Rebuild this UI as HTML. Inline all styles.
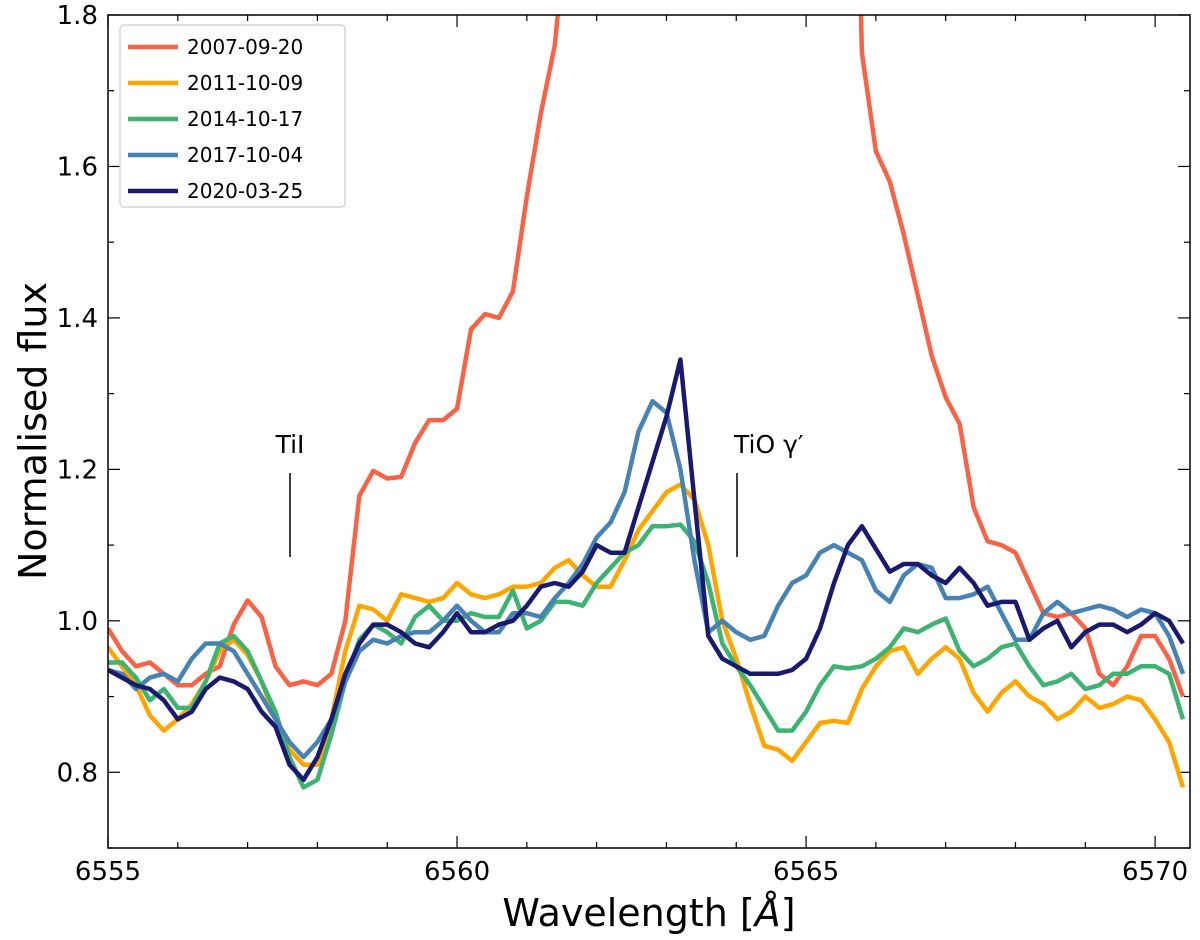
<!DOCTYPE html>
<html><head><meta charset="utf-8"><style>
body{margin:0;background:#fff;}
svg{display:block;font-family:"DejaVu Sans","Liberation Sans",sans-serif;}
</style></head><body>
<svg id="chart" width="1200" height="940" viewBox="0 0 1200 940">
<defs><clipPath id="clip"><rect x="108" y="15" width="1082" height="833"/></clipPath></defs>
<g id="grid"></g>
<g id="series" clip-path="url(#clip)"></g>
<rect x="108" y="15" width="1082" height="833" fill="none" stroke="#000" stroke-width="1.5"/>
<g>
<text x="290" y="453" font-size="25" text-anchor="middle">TiI</text>
<line x1="290" y1="473" x2="290" y2="557" stroke="#000" stroke-width="1.5"/>
</g>
<g>
<text x="734" y="453" font-size="25">TiO γ′</text>
<line x1="737" y1="473" x2="737" y2="557" stroke="#000" stroke-width="1.5"/>
</g>
<text x="649" y="926" font-size="38" text-anchor="middle">Wavelength [<tspan font-style="italic">Å</tspan>]</text>
<text transform="translate(46,431) rotate(-90)" font-size="38" text-anchor="middle">Normalised flux</text>
<g id="legend"></g>
</svg>
<script>
const startWl = 6555.0;
const stepWl = 0.2;
const labels = ["2007-09-20","2011-10-09","2014-10-17","2017-10-04","2020-03-25"];
const colors = ["#fa6246","#ffa500","#3cb371","#4682b4","#191970"];
const s2007 = [0.99,0.96,0.94,0.945,0.93,0.915,0.915,0.93,0.94,0.995,1.027,1.005,0.94,0.915,0.92,0.915,0.93,1.0,1.165,1.198,1.188,1.19,1.235,1.265,1.265,1.28,1.385,1.405,1.40,1.435,1.56,1.67,1.76,1.95,2.5,2.5,2.5,2.5,2.5,2.5,2.5,2.5,2.5,2.5,2.5,2.5,2.5,2.5,2.5,2.5,2.5,2.5,2.5,2.5,1.75,1.62,1.58,1.51,1.43,1.35,1.295,1.26,1.15,1.105,1.10,1.09,1.05,1.01,1.005,1.01,0.99,0.93,0.915,0.94,0.98,0.98,0.95,0.9];
const s2011 = [0.965,0.94,0.915,0.875,0.855,0.87,0.89,0.92,0.96,0.975,0.955,0.92,0.87,0.83,0.81,0.81,0.87,0.96,1.02,1.015,1.0,1.035,1.03,1.025,1.03,1.05,1.035,1.03,1.035,1.045,1.045,1.05,1.07,1.08,1.06,1.045,1.045,1.08,1.12,1.145,1.17,1.18,1.16,1.1,1.0,0.95,0.89,0.835,0.83,0.815,0.84,0.865,0.868,0.865,0.91,0.94,0.96,0.965,0.93,0.95,0.965,0.95,0.905,0.88,0.905,0.92,0.9,0.89,0.87,0.88,0.9,0.885,0.89,0.9,0.895,0.87,0.84,0.78];
const s2014 = [0.945,0.945,0.925,0.895,0.91,0.885,0.885,0.92,0.97,0.98,0.96,0.92,0.88,0.82,0.78,0.79,0.85,0.92,0.975,0.995,0.985,0.97,1.005,1.02,1.0,1.0,1.01,1.005,1.005,1.04,0.99,1.0,1.025,1.025,1.02,1.05,1.07,1.09,1.1,1.125,1.125,1.127,1.105,1.05,0.97,0.94,0.915,0.885,0.855,0.855,0.88,0.915,0.94,0.937,0.94,0.95,0.965,0.99,0.985,0.995,1.003,0.96,0.94,0.95,0.965,0.97,0.94,0.915,0.92,0.93,0.91,0.915,0.93,0.93,0.94,0.94,0.93,0.87];
const s2017 = [0.935,0.93,0.91,0.925,0.93,0.92,0.95,0.97,0.97,0.96,0.93,0.9,0.87,0.84,0.82,0.84,0.87,0.92,0.96,0.975,0.97,0.98,0.985,0.985,1.0,1.02,1.0,0.985,0.985,1.01,1.01,1.005,1.03,1.05,1.075,1.11,1.13,1.17,1.25,1.29,1.275,1.2,1.08,0.985,1.0,0.985,0.975,0.98,1.02,1.05,1.06,1.09,1.1,1.09,1.08,1.04,1.025,1.06,1.075,1.07,1.03,1.03,1.035,1.045,1.01,0.975,0.975,1.01,1.025,1.01,1.015,1.02,1.015,1.005,1.015,1.01,0.98,0.93];
const s2020 = [0.935,0.925,0.915,0.91,0.895,0.87,0.88,0.91,0.925,0.92,0.91,0.88,0.86,0.81,0.79,0.82,0.87,0.93,0.97,0.995,0.995,0.985,0.97,0.965,0.985,1.01,0.985,0.985,0.995,1.0,1.02,1.045,1.05,1.045,1.065,1.1,1.09,1.09,1.15,1.21,1.27,1.345,1.16,0.98,0.95,0.94,0.93,0.93,0.93,0.935,0.95,0.99,1.05,1.1,1.125,1.095,1.065,1.075,1.075,1.06,1.05,1.07,1.05,1.02,1.025,1.025,0.975,0.99,1.0,0.965,0.985,0.995,0.995,0.985,0.995,1.01,1.0,0.97];
const seriesList = [s2007,s2011,s2014,s2017,s2020];
const xTicks = [6555,6560,6565,6570];
const yTicks = [0.8,1.0,1.2,1.4,1.6,1.8];

const X0=108,X1=1190,Y0=848,Y1=15, XMIN=6555, XMAX=6570.5, YMIN=0.7, YMAX=1.8;
const xs = v => X0 + (v-XMIN)/(XMAX-XMIN)*(X1-X0);
const ys = v => Y0 - (v-YMIN)/(YMAX-YMIN)*(Y0-Y1);
const NS="http://www.w3.org/2000/svg";
function mk(tag, attrs, parent){const e=document.createElementNS(NS,tag);for(const k in attrs)e.setAttribute(k,attrs[k]);parent.appendChild(e);return e;}

const grid=document.getElementById('grid');
for(let w=6555; w<=6570; w+=1){
  const major = xTicks.includes(w); const L = major?12:6; const x=xs(w);
  const t1=mk('line',{x1:x,y1:Y0,x2:x,y2:Y0-L,stroke:'#000','stroke-width':1.2},grid);
  
  
  mk('line',{x1:x,y1:Y1,x2:x,y2:Y1+L,stroke:'#000','stroke-width':1.2},grid);
}
xTicks.forEach(w=>{
  const t=mk('text',{x:xs(w),y:Y0+32,'font-size':26,'text-anchor':'middle'},grid);
  t.textContent=w;
  
  
});
for(let k=7;k<=18;k++){
  const v=k/10; const major = k%2===0; const L=major?12:6; const y=ys(v);
  const t1=mk('line',{x1:X0,y1:y,x2:X0+L,y2:y,stroke:'#000','stroke-width':1.2},grid);
  
  
  mk('line',{x1:X1,y1:y,x2:X1-L,y2:y,stroke:'#000','stroke-width':1.2},grid);
}
yTicks.forEach(v=>{
  const t=mk('text',{x:X0-10,y:ys(v)+9,'font-size':26,'text-anchor':'end'},grid);
  t.textContent=v.toFixed(1);
  
  
});

const sg=document.getElementById('series');
seriesList.forEach((arr,i)=>{
  const d=arr.map((v,j)=>(j?'L':'M')+xs(startWl+j*stepWl).toFixed(1)+','+ys(v).toFixed(1)).join(' ');
  const p=mk('path',{d:d,fill:'none',stroke:colors[i],'stroke-width':4.5,'stroke-linejoin':'round'},sg);
  
  
});

const lg=document.getElementById('legend');
const box=mk('rect',{x:120,y:25,width:225,height:182,rx:4,fill:'#fff',stroke:'#ccc','stroke-width':1.2},lg);


labels.forEach((lab,i)=>{
  const y=47+i*36;
  const g=mk('g',{},lg);
  
  
  mk('line',{x1:128,y1:y,x2:178,y2:y,stroke:colors[i],'stroke-width':4.5},g);
  const t=mk('text',{x:187,y:y+7,'font-size':20},g);
  t.textContent=lab;
});
</script>
</body></html>
